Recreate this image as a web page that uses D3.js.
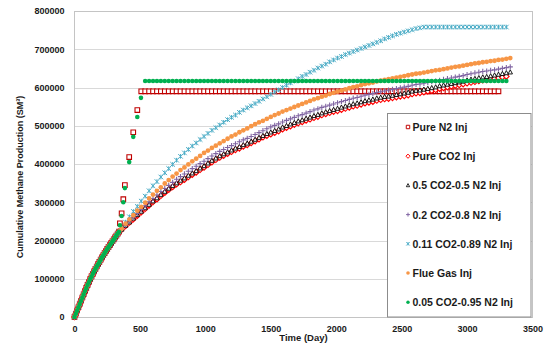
<!DOCTYPE html>
<html><head><meta charset="utf-8">
<script src="https://cdn.jsdelivr.net/npm/d3@7"></script>
<style>
html,body{margin:0;padding:0;background:#fff;}
svg{display:block;font-family:"Liberation Sans",Arial,sans-serif;}
</style></head><body>
<svg id="chart" width="546" height="344"></svg>
<script>
// ---- Data (production in thousand SM3) ----
const xTicks = [0, 500, 1000, 1500, 2000, 2500, 3000, 3500];
const yTicks = [0, 100000, 200000, 300000, 400000, 500000, 600000, 700000, 800000];

// Primary depletion period, common to every injection case
const earlyDays = [0,10,20,30,40,50,60,70,80,90,100,110,120,130,140,150,160,170,180,190,200,210,220,230,240,250,260,270,280,290,300,310,320,330,340];
const earlyProd = [0,8.5,17,25.5,34,42.5,51,59.5,68,76,84,91.5,99,106,113,119.5,126,132,138,144,150,156,161.5,167,172.5,178,183,188,193,198,203,208,213,218,223];

// Early breakthrough steps of the N2-rich cases
const n2StepDays = [347, 360, 373, 385, 418, 449, 480];
const n2StepProd = [245, 271, 308, 345, 418, 483, 541];
const mixStepDays = [347, 360, 373, 385, 418, 449, 480, 508];
const mixStepProd = [240, 264, 300, 337, 405, 471, 523, 573];

// Report times during injection
const days = [
  360,390,420,450,480,510,540,570,600,630,
  660,690,720,750,780,810,840,870,900,930,
  960,990,1020,1050,1080,1110,1140,1170,1200,1230,
  1260,1290,1320,1350,1380,1410,1440,1470,1500,1530,
  1560,1590,1620,1650,1680,1710,1740,1770,1800,1830,
  1860,1890,1920,1950,1980,2010,2040,2070,2100,2130,
  2160,2190,2220,2250,2280,2310,2340,2370,2400,2430,
  2460,2490,2520,2550,2580,2610,2640,2670,2700,2730,
  2760,2790,2820,2850,2880,2910,2940,2970,3000,3030,
  3060,3090,3120,3150,3180,3210,3240,3270,3300,3330];

const _ = null;
const pureN2 = [
  _,_,_,_,_,590,590,590,590,590,
  590,590,590,590,590,590,590,590,590,590,
  590,590,590,590,590,590,590,590,590,590,
  590,590,590,590,590,590,590,590,590,590,
  590,590,590,590,590,590,590,590,590,590,
  590,590,590,590,590,590,590,590,590,590,
  590,590,590,590,590,590,590,590,590,590,
  590,590,590,590,590,590,590,590,590,590,
  590,590,590,590,590,590,590,590,590,590,
  590,590,590,590,590,590,590,_,_,_];
const pureCO2 = [
  228,238,247,256,265,274,283,292,301,308,
  317,325,333,340,347,353,359,366,372,378,
  385,391,398,405,411,417,422,427,432,437,
  441,446,450,455,460,465,470,474,478,482,
  486,491,495,499,503,507,510,514,517,521,
  524,528,531,534,537,539,542,545,548,551,
  553,556,559,561,563,566,568,570,571,573,
  575,577,578,580,583,585,586,588,590,592,
  594,597,599,601,603,605,607,609,611,613,
  615,617,619,620,622,623,625,627,629,_];
const co2n2_50 = [
  229,239,248,258,267,276,285,294,303,311,
  320,328,336,343,350,357,363,370,376,382,
  389,395,402,409,415,421,426,431,436,441,
  445,450,454,459,464,469,474,479,483,487,
  491,496,500,504,508,512,515,519,522,526,
  529,533,536,539,542,545,548,551,554,557,
  559,562,565,567,569,572,574,576,577,579,
  581,583,585,587,590,592,593,595,597,599,
  601,604,606,608,610,612,614,616,619,621,
  623,625,627,628,630,632,634,636,638,640];
const co2n2_20 = [
  230,241,251,261,271,281,291,301,310,319,
  328,336,344,352,360,367,374,381,388,394,
  401,407,414,421,427,433,438,443,448,453,
  458,463,467,472,477,482,487,492,497,501,
  505,510,514,518,522,526,529,533,537,541,
  544,548,551,554,557,560,563,566,569,572,
  574,577,580,582,584,587,589,591,593,595,
  597,599,601,603,606,608,609,611,613,615,
  617,619,621,623,625,627,629,631,634,636,
  638,640,642,643,645,646,648,650,652,654];
const co2n2_11 = [
  233,248,262,276,289,303,316,330,343,354,
  366,377,388,399,410,420,429,438,447,455,
  464,472,480,488,495,502,509,516,522,528,
  535,541,547,552,558,564,570,576,582,588,
  594,600,606,612,617,623,629,634,640,645,
  651,656,661,667,672,677,681,686,690,694,
  698,702,706,710,714,718,722,727,731,735,
  739,742,745,748,751,754,756,758,758,758,
  758,758,758,758,758,758,758,758,758,758,
  758,758,758,758,758,758,758,758,758,_];
const flueGas = [
  231,244,255,266,278,288,299,310,320,330,
  339,349,358,367,375,384,391,399,407,414,
  421,429,435,442,448,454,460,466,472,477,
  483,488,493,499,504,509,513,518,523,528,
  532,537,541,545,549,553,557,561,565,569,
  572,576,579,583,586,589,592,595,598,601,
  603,606,609,611,613,616,618,620,622,624,
  626,628,630,632,634,636,637,639,641,643,
  645,646,648,650,652,654,655,657,659,661,
  663,664,666,667,669,670,672,673,675,677];
const co2n2_05 = [
  _,_,_,_,_,_,617,617,617,617,
  617,617,617,617,617,617,617,617,617,617,
  617,617,617,617,617,617,617,617,617,617,
  617,617,617,617,617,617,617,617,617,617,
  617,617,617,617,617,617,617,617,617,617,
  617,617,617,617,617,617,617,617,617,617,
  617,617,617,617,617,617,617,617,617,617,
  617,617,617,617,617,617,617,617,617,617,
  617,617,617,617,617,617,617,617,617,617,
  617,617,617,617,617,617,617,617,617,_];

// ---- Marker shapes ----
const shapes = {
  square: s => `M${-s/2},${-s/2}h${s}v${s}h${-s}Z`,
  diamond: s => `M0,${-s/2}L${s/2},0L0,${s/2}L${-s/2},0Z`,
  triangle: s => `M0,${-s*0.55}L${s/2},${s*0.4}L${-s/2},${s*0.4}Z`,
  plus: s => `M${-s/2},0H${s/2}M0,${-s/2}V${s/2}`,
  star: s => `M${-s/2},${-s/2}L${s/2},${s/2}M${-s/2},${s/2}L${s/2},${-s/2}M0,${-s/2}V${s/2}`,
  circle: s => d3.symbol(d3.symbolCircle, Math.PI * s * s / 4)()
};

function build(stepDays, stepProd, values) {
  const pts = earlyDays.map((d, i) => [d, earlyProd[i]]);
  if (stepDays) stepDays.forEach((d, i) => pts.push([d, stepProd[i]]));
  days.forEach((d, i) => { if (values[i] != null) pts.push([d, values[i]]); });
  return pts.map(([d, v]) => [d, v * 1000]);
}

const series = [
  {name: "Pure N2 Inj", pts: build(n2StepDays, n2StepProd, pureN2), shape: "square", size: 4.6, stroke: "#c00000", fill: "#fff", sw: 1.1},
  {name: "Pure CO2 Inj", pts: build(null, null, pureCO2), shape: "diamond", size: 5.6, stroke: "#ff0000", fill: "#fff", sw: 1.1},
  {name: "0.5 CO2-0.5 N2 Inj", pts: build(null, null, co2n2_50), shape: "triangle", size: 4.4, stroke: "#000", fill: "#fff", sw: 0.9},
  {name: "0.2 CO2-0.8 N2 Inj", pts: build(null, null, co2n2_20), shape: "plus", size: 5.2, stroke: "#8064a2", fill: "none", sw: 1.1},
  {name: "0.11 CO2-0.89 N2 Inj", pts: build(null, null, co2n2_11), shape: "star", size: 4.6, stroke: "#4bacc6", fill: "none", sw: 1},
  {name: "Flue Gas Inj", pts: build(null, null, flueGas), shape: "circle", size: 4.8, stroke: "none", fill: "#f79646", sw: 0},
  {name: "0.05 CO2-0.95 N2 Inj", pts: build(mixStepDays, mixStepProd, co2n2_05), shape: "circle", size: 4.6, stroke: "none", fill: "#00b050", sw: 0}
];

// ---- Layout ----
const plot = {left: 74.5, right: 532.5, top: 11, bottom: 317};
const x = d3.scaleLinear().domain([0, 3500]).range([plot.left, plot.right]);
const y = d3.scaleLinear().domain([0, 800000]).range([plot.bottom, plot.top]);
const svg = d3.select("#chart");

// gridlines
svg.append("g").selectAll("line")
  .data(yTicks.filter(v => v > 0 && v < 800000)).join("line")
  .attr("x1", plot.left).attr("x2", plot.right)
  .attr("y1", d => Math.round(y(d)) + 0.5).attr("y2", d => Math.round(y(d)) + 0.5)
  .attr("stroke", "#d9d9d9").attr("stroke-width", 1);

// plot frame
svg.append("rect")
  .attr("x", plot.left).attr("y", plot.top + 0.5)
  .attr("width", plot.right - plot.left).attr("height", plot.bottom - plot.top)
  .attr("fill", "none").attr("stroke", "#c4c4c4").attr("stroke-width", 1);

// axes
const yAxis = svg.append("g").attr("transform", `translate(${plot.left},0)`)
  .call(d3.axisLeft(y).tickValues(yTicks).tickSize(0).tickPadding(10).tickFormat(d3.format("d")));
const xAxis = svg.append("g").attr("transform", `translate(0,${plot.bottom})`)
  .call(d3.axisBottom(x).tickValues(xTicks).tickSize(0).tickPadding(9).tickFormat(d3.format("d")));
[yAxis, xAxis].forEach(g => {
  g.select(".domain").remove();
  g.selectAll("text").attr("font-family", '"Liberation Sans",Arial,sans-serif')
    .attr("font-size", 9).attr("font-weight", "bold").attr("fill", "#1a1a1a");
});

// series markers
series.forEach(s => {
  const path = shapes[s.shape](s.size);
  svg.append("g").selectAll("path").data(s.pts).join("path")
    .attr("transform", d => `translate(${x(d[0])},${y(d[1])})`)
    .attr("d", path)
    .attr("fill", s.fill).attr("stroke", s.stroke).attr("stroke-width", s.sw);
});

// axis titles
svg.append("text")
  .attr("transform", "translate(20,177) rotate(-90)")
  .attr("text-anchor", "middle").attr("dominant-baseline", "central")
  .attr("font-size", 9).attr("font-weight", "bold").attr("fill", "#1a1a1a")
  .text("Cumulative Methane Production (SM³)");
svg.append("text")
  .attr("x", (plot.left + plot.right) / 2).attr("y", 341)
  .attr("text-anchor", "middle")
  .attr("font-size", 9.5).attr("font-weight", "bold").attr("fill", "#1a1a1a")
  .text("Time (Day)");

// legend
const lg = svg.append("g");
lg.append("rect").attr("x", 387.5).attr("y", 113.5).attr("width", 143.5).attr("height", 203.5)
  .attr("fill", "#fff").attr("stroke", "#8c8c8c").attr("stroke-width", 1);
series.forEach((s, i) => {
  const cy = 127 + i * 29.2;
  lg.append("path").attr("transform", `translate(408,${cy})`)
    .attr("d", shapes[s.shape](s.size * 0.75))
    .attr("fill", s.fill).attr("stroke", s.stroke).attr("stroke-width", s.sw * 0.9);
  lg.append("text").attr("x", 412.5).attr("y", cy).attr("dominant-baseline", "central")
    .attr("font-size", 10.5).attr("font-weight", "bold").attr("fill", "#1a1a1a")
    .text(s.name);
});
</script>
</body></html>
